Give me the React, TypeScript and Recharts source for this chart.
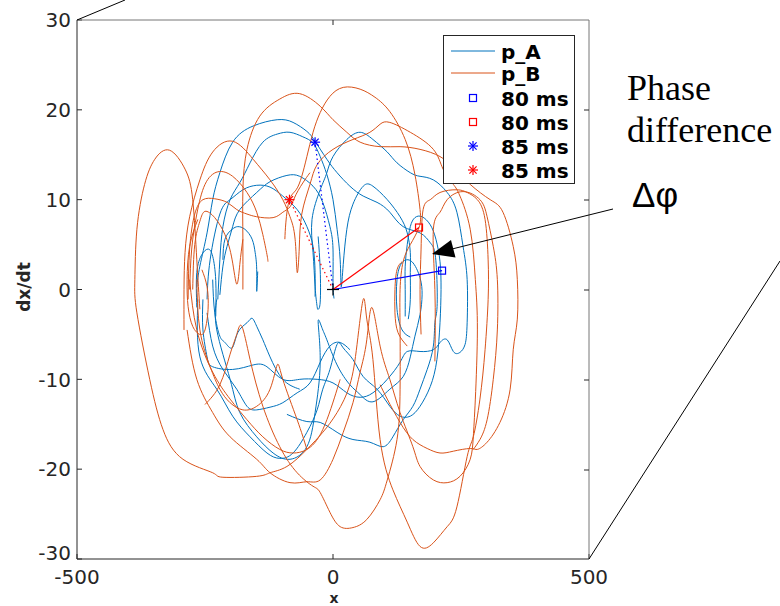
import React from "react";
import { ComposedChart, Line, Scatter, XAxis, YAxis, Legend } from "recharts";

type Pt = [number, number];

const xTicks = [-500, 0, 500];
const yTicks = [-30, -20, -10, 0, 10, 20, 30];

// p_A trajectory pieces, [x, dx/dt]
const pA1: Pt[] = [[-266,0.3],[-260,2.6],[-246,6.3],[-235,10.0],[-221,13.0],[-196,16.4],[-156,18.2],[-109,18.9],[-78,18.6],[-51,17.6],[-35,16.5],[-12,14.5],[8,13.0],[33,11.5],[59,10.4],[86,9.7],[111,8.6],[137,7.0],[170,6.3],[190,5.2],[199,4.1],[203,1.1],[203,-2.2],[199,-3.7],[196,-6.3],[184,-8.9],[170,-11.1],[156,-13.0],[137,-14.5],[117,-16.4],[98,-17.5],[72,-17.0],[39,-16.7],[8,-15.9],[-25,-14.8],[-51,-14.7],[-90,-13.9]];
const pA2: Pt[] = [[-264,-1.1],[-260,-7.5],[-227,-11.1],[-196,-14.1],[-162,-16.4],[-129,-18.2],[-104,-18.8],[-78,-18.2],[-51,-15.9],[-31,-13.4],[-20,-11.1],[-6,-8.9],[8,-6.1],[20,-6.5],[39,-7.8],[59,-9.7],[86,-11.1],[111,-13.0],[131,-14.1],[151,-14.1],[170,-13.0],[190,-10.8],[203,-7.8],[209,-3.7],[211,0],[209,3.1],[201,5.6],[190,7.2],[174,8.1],[160,8.0],[151,7.0],[145,5.0],[141,2.6],[141,0],[141,-3]];
const pA3: Pt[] = [[-227,-1.1],[-227,-4.5],[-201,-10.0],[-182,-13.7],[-149,-16.4],[-117,-18.2],[-84,-18.9],[-51,-17.5],[-35,-13.7],[-25,-8.1],[-29,-3.6],[-22,-4.2],[-12,-5.6],[8,-8.4],[33,-10.6],[53,-11.7],[78,-12.5],[111,-11.1],[137,-9.7],[151,-7.5],[160,-5.2],[170,-2.8],[174,-0.6],[170,1.3],[154,3.1],[135,3.0],[125,1.1],[125,-2.2],[135,-4.5],[151,-5.3]];
const pA4: Pt[] = [[-254,-1.1],[-254,-4.5],[-246,-7.5],[-235,-8.6],[-196,-8.9],[-156,-8.4],[-129,-8.6],[-98,-10.0],[-65,-10.0],[-31,-10.0],[0,-10.4],[27,-11.5],[53,-12.0],[78,-11.5],[106,-10.0],[131,-8.1],[145,-6.9],[170,-6.9],[196,-6.7],[209,-5.9],[223,-5.6],[235,-6.9],[248,-7.0],[258,-6.1],[262,-3.7],[262,1.1],[254,4.8],[242,8.6],[223,10.8],[196,12.2],[170,12.6],[151,13.0],[125,14.1],[106,15.3],[78,16.7],[53,17.5],[27,16.7],[0,14.8],[-12,13.0],[-25,11.1],[-41,7.8],[-39,4.1],[-35,0.3],[-31,-1.9],[-29,-2.2],[-25,-1.4],[-25,2.2],[-29,5.9]];
const pA5: Pt[] = [[-225,-1.1],[-221,3.3],[-215,7.0],[-201,10.0],[-182,11.9],[-162,14.1],[-137,16.4],[-109,17.3],[-84,17.5],[-59,17.0],[-39,16.3],[-25,14.8],[-12,12.8],[0,10.0],[8,6.7],[14,3.3],[16,0.3],[20,2.8],[27,6.7],[39,9.5],[59,11.5],[78,11.5],[106,10.0],[131,8.1],[145,6.3],[151,4.1],[151,1.9],[151,-1.1],[147,-3.3]];
const pA6: Pt[] = [[-221,-0.6],[-215,2.6],[-207,4.8],[-196,7.0],[-182,8.9],[-149,10.8],[-123,12.0],[-90,12.7],[-65,12.6],[-39,11.5],[-20,9.7],[-6,7.0],[0,4.5],[0,0.8],[2,-1]];
const pA7: Pt[] = [[-246,-1.1],[-240,3.3],[-221,8.4],[-201,10.0],[-176,11.1],[-149,11.6],[-123,11.4],[-98,10.4],[-70,8.9],[-51,7.0],[-39,4.8],[-35,1.9],[-35,-0.8]];
const pA8: Pt[] = [[-215,3.3],[-211,5.6],[-197,6.7],[-186,7.0],[-172,6.7],[-158,5.6],[-152,4.1],[-149,2.2],[-149,-0.2],[-147,2]];
const pA9: Pt[] = [[-235,1.1],[-231,-2.6],[-221,-5.2],[-211,-5.9],[-197,-6.5],[-186,-4.8],[-168,-3.7],[-158,-3.2],[-149,-4.1],[-137,-5.6],[-123,-7.5],[-98,-10.0],[-65,-11.1]];
const pA10: Pt[] = [[-246,-2.6],[-235,-6.3],[-215,-8.9],[-188,-11.1],[-168,-13.0],[-149,-13.4],[-123,-13.1],[-98,-12.6],[-70,-11.5],[-45,-10.4],[-25,-8.1],[-6,-6.3],[14,-5.9],[33,-6.7]];
const pA11: Pt[] = [[-266,-2],[-266,1.9],[-256,3.9],[-244,4.5],[-235,3.7],[-229,1],[-229,-3]];

// p_B trajectory pieces, [x, dx/dt]
const pB1: Pt[] = [[-260,-2.2],[-266,3.3],[-274,10.0],[-289,13.4],[-319,15.5],[-348,14.5],[-368,11.7],[-383,6.7],[-387,1.1],[-383,-2.6],[-358,-10.0],[-332,-15.6],[-293,-18.9],[-235,-20.4],[-215,-20.9],[-149,-20.8],[-123,-20.4],[-90,-19.7],[-51,-17.8],[-20,-15.9],[8,-13.7],[33,-10.6],[47,-6.1],[59,-1.1],[66,-3.3],[78,-7.8],[92,-16.7],[117,-22.3],[145,-25.9],[170,-28.6],[196,-28.2],[223,-26.4],[242,-24.2],[262,-18.6],[274,-16.4],[287,-12.2],[297,-6.7],[303,-1.1],[303,3.3],[297,7.8],[282,10.0],[262,10.8],[242,11.1],[209,10.8],[190,10.0],[176,8.9],[172,4.5],[170,0],[172,-5]];
const pB2: Pt[] = [[-291,-4.5],[-291,0],[-289,4.1],[-280,8.1],[-260,12.2],[-235,15.3],[-196,16.5],[-156,14.5],[-123,12.2],[-98,10.0],[-84,8.1],[-74,5.6],[-70,1.9],[-66,4.5],[-61,8.4],[-45,11.7],[-31,13.9],[0,15.6],[39,16.7],[72,17.5],[92,18.4],[111,18.6],[151,17.5],[196,15.6],[215,13.4],[235,11.7],[248,10.4],[268,6.7],[278,1.1],[282,-4.5],[278,-12.2],[274,-16.4],[268,-18.9],[248,-20.8],[223,-21.5],[196,-21.2],[170,-19.7],[156,-17.5],[131,-13.7],[111,-10.0],[92,-6.3],[76,-2.0],[66,-5.6],[53,-9.2],[39,-12.6],[20,-15.9],[0,-18.9],[-25,-21.2],[-51,-21.4],[-84,-21.5],[-123,-20.4],[-149,-18.9],[-201,-16.4],[-235,-13.7],[-266,-10.0],[-285,-4.5]];
const pB3: Pt[] = [[-176,0],[-176,5.6],[-176,11.1],[-168,15.6],[-143,19.3],[-104,21.2],[-65,21.8],[-25,20.4],[0,18.9],[27,17.5],[53,16.4],[92,15.9],[131,15.9],[170,15.6],[209,14.8],[239,13.4],[268,11.7],[307,10.0],[332,8.6],[352,4.8],[360,1.1],[360,-3.3],[352,-6.7],[346,-11.1],[326,-14.8],[301,-17.0],[282,-17.8],[268,-17.7],[235,-18.0],[209,-18.2],[184,-17.7],[156,-16.7],[131,-14.8],[106,-12.2],[92,-10.6]];
const pB4: Pt[] = [[-94,5.6],[-92,7.5],[-85,10.0],[-72,11.1],[-61,12.6],[-51,14.8],[-39,17.5],[-25,19.7],[-6,21.5],[20,22.5],[53,22.3],[82,21.4],[111,19.8],[141,16.7],[160,12.8],[170,8.9],[168,6.9],[151,5.0],[137,3.1],[131,0],[131,-4.5],[131,-11.1],[125,-16.7],[106,-21.2],[92,-23.4],[66,-25.6],[39,-26.5],[14,-26.4],[-6,-24.8],[-25,-22.6],[-39,-21.9],[-70,-20.4],[-104,-17.5],[-137,-13.0],[-162,-7.8],[-178,-4.1],[-188,-5.0],[-201,-7.2],[-221,-10.6],[-250,-12.8]];
const pB5: Pt[] = [[-280,0],[-276,4.5],[-266,8.4],[-250,11.7],[-225,13.1],[-196,12.6],[-168,10.8],[-149,8.6],[-137,6.1],[-129,3.9],[-127,3.1]];
const pB6: Pt[] = [[-283,-1.1],[-280,4.5],[-270,8.4],[-254,10.0],[-231,10.1],[-207,9.7],[-188,8.9],[-168,8.4],[-149,8.1],[-117,8.0],[-98,8.6],[-84,9.2],[-72,10.6],[-55,12.2],[-45,13.0]];
const pB7: Pt[] = [[-274,0],[-270,5.0],[-260,7.6],[-250,8.7],[-231,8.0],[-211,6.1],[-197,3.3],[-188,0.6],[-182,2.8],[-176,5.6]];
const pB8: Pt[] = [[-264,7.8],[-280,4.8],[-285,1.1],[-283,-1.9],[-274,-4.1],[-260,-5.0],[-250,-4.5],[-244,-2.2],[-246,0.3],[-256,2.2]];
const pB9: Pt[] = [[-266,1.1],[-260,-4.5],[-240,-8.6],[-221,-11.1],[-201,-12.6],[-176,-13.4],[-149,-13.0],[-123,-11.1],[-109,-8.4],[-98,-10.0],[-70,-14.5],[-51,-17.8]];
const pB10: Pt[] = [[-280,1.1],[-266,-4.5],[-235,-9.2],[-201,-12.2],[-168,-14.5],[-137,-16.4],[-104,-17.8],[-78,-18.2],[-51,-17.8],[-20,-15.6],[8,-11.1],[14,-10]];
const pB11: Pt[] = [[135,3.1],[125,2.2],[121,0],[121,-2.6],[127,-4.8],[145,-6.3]];
const pB12: Pt[] = [[199,-8],[199,0],[196,6.7],[209,8.6],[223,10.0],[254,10.9],[287,10.0],[301,8.1],[313,4.8],[321,1.1],[321,-4.5],[313,-10.0],[301,-14.5],[287,-16.7],[274,-17.8]];

const pA = [pA1, pA2, pA3, pA4, pA5, pA6, pA7, pA8, pA9, pA10, pA11];
const pB = [pB1, pB2, pB3, pB4, pB5, pB6, pB7, pB8, pB9, pB10, pB11, pB12];

// phase points at 80 ms and 85 ms, and the centre
const origin = [{ x: 0, y: 0 }];
const a80 = [{ x: 213, y: 2.1 }];
const b80 = [{ x: 168, y: 6.9 }];
const a85 = [{ x: -35, y: 16.4 }];
const b85 = [{ x: -85, y: 10.0 }];

const BLUE = "#0072BD";
const ORANGE = "#D95319";
const AXIS = "#262626";
const FONT = "'DejaVu Sans', sans-serif";

const rows = (seg: Pt[]) => seg.map(([x, y]) => ({ x, y }));

const XTick = ({ x, y, payload }: any) => (
  <g>
    <line x1={x} x2={x} y1={y} y2={y - 5} stroke={AXIS} />
    <text x={x} y={y + 25} textAnchor="middle" fontSize={20} fontFamily={FONT} fill={AXIS}>
      {payload.value}
    </text>
  </g>
);

const YTick = ({ x, y, payload }: any) => (
  <g>
    <line x1={x} x2={x + 5} y1={y} y2={y} stroke={AXIS} />
    <text x={x - 6} y={y} dy={payload.value === -30 ? "0.05em" : "0.36em"} textAnchor="end"
      fontSize={20} fontFamily={FONT} fill={AXIS}>
      {payload.value}
    </text>
  </g>
);

const Square = ({ cx, cy, stroke }: any) => (
  <rect x={cx - 3.5} y={cy - 3.5} width={7} height={7} fill="none" stroke={stroke} strokeWidth={1.2} />
);

const Star = ({ cx, cy, stroke }: any) => (
  <g stroke={stroke} strokeWidth={1.2}>
    <line x1={cx - 5} x2={cx + 5} y1={cy} y2={cy} />
    <line x1={cx} x2={cx} y1={cy - 5} y2={cy + 5} />
    <line x1={cx - 3.6} x2={cx + 3.6} y1={cy - 3.6} y2={cy + 3.6} />
    <line x1={cx - 3.6} x2={cx + 3.6} y1={cy + 3.6} y2={cy - 3.6} />
  </g>
);

const Plus = ({ cx, cy }: any) => (
  <g stroke="#000" strokeWidth={1.2}>
    <line x1={cx - 6} x2={cx + 6} y1={cy} y2={cy} />
    <line x1={cx} x2={cx} y1={cy - 6} y2={cy + 6} />
  </g>
);

const LegendBox = () => (
  <svg width={133} height={150}>
    <rect x={0.5} y={0.5} width={131} height={148} fill="#fff" stroke={AXIS} />
    <g fontFamily={FONT} fontWeight="bold" fontSize={20} fill="#000">
      <line x1={8} x2={52} y1={16} y2={16} stroke={BLUE} />
      <text x={58} y={24}>p_A</text>
      <line x1={8} x2={52} y1={38} y2={38} stroke={ORANGE} />
      <text x={58} y={46}>p_B</text>
      <Square cx={30} cy={63} stroke="#0000FF" />
      <text x={58} y={71}>80 ms</text>
      <Square cx={30} cy={87} stroke="#FF0000" />
      <text x={58} y={95}>80 ms</text>
      <Star cx={30} cy={111} stroke="#0000FF" />
      <text x={58} y={119}>85 ms</text>
      <Star cx={30} cy={135} stroke="#FF0000" />
      <text x={58} y={143}>85 ms</text>
    </g>
  </svg>
);

export default function App() {
  return (
    <div style={{ position: "absolute", left: 0, top: 0, width: 780, height: 606, background: "#fff", overflow: "hidden" }}>
      <ComposedChart width={780} height={606} margin={{ top: 20, right: 191, bottom: 0, left: 0 }}>
        <XAxis
          type="number"
          dataKey="x"
          domain={[-500, 500]}
          ticks={xTicks}
          allowDataOverflow
          height={47}
          tickSize={0}
          tickMargin={0}
          tick={<XTick />}
          stroke={AXIS}
          interval={0}
        />
        <YAxis
          type="number"
          domain={[-30, 30]}
          ticks={yTicks}
          allowDataOverflow
          width={77}
          tickSize={0}
          tickMargin={0}
          tick={<YTick />}
          stroke={AXIS}
          interval={0}
        />
        {pA.map((seg, i) => (
          <Line key={"a" + i} data={rows(seg)} dataKey="y" type="natural" stroke={BLUE} strokeWidth={1}
            dot={false} isAnimationActive={false} legendType="none" />
        ))}
        {pB.map((seg, i) => (
          <Line key={"b" + i} data={rows(seg)} dataKey="y" type="natural" stroke={ORANGE} strokeWidth={1}
            dot={false} isAnimationActive={false} legendType="none" />
        ))}
        <Line data={[...origin, ...a80]} dataKey="y" stroke="#0000FF" strokeWidth={1.2} dot={false} isAnimationActive={false} legendType="none" />
        <Line data={[...origin, ...b80]} dataKey="y" stroke="#FF0000" strokeWidth={1.2} dot={false} isAnimationActive={false} legendType="none" />
        <Line data={[...origin, ...a85]} dataKey="y" stroke="#0000FF" strokeWidth={1.2} strokeDasharray="1.5 3" dot={false} isAnimationActive={false} legendType="none" />
        <Line data={[...origin, ...b85]} dataKey="y" stroke="#FF0000" strokeWidth={1.2} strokeDasharray="1.5 3" dot={false} isAnimationActive={false} legendType="none" />
        <Scatter data={a80} dataKey="y" shape={<Square stroke="#0000FF" />} isAnimationActive={false} legendType="none" />
        <Scatter data={b80} dataKey="y" shape={<Square stroke="#FF0000" />} isAnimationActive={false} legendType="none" />
        <Scatter data={a85} dataKey="y" shape={<Star stroke="#0000FF" />} isAnimationActive={false} legendType="none" />
        <Scatter data={b85} dataKey="y" shape={<Star stroke="#FF0000" />} isAnimationActive={false} legendType="none" />
        <Scatter data={origin} dataKey="y" shape={<Plus />} isAnimationActive={false} legendType="none" />
        <Legend
          layout="horizontal"
          verticalAlign="middle"
          align="center"
          content={<LegendBox />}
          wrapperStyle={{ left: 443, top: 35, width: 133, height: 150 }}
        />
      </ComposedChart>
      <svg width={780} height={606} style={{ position: "absolute", left: 0, top: 0, pointerEvents: "none" }}>
        <g stroke="#777" fill="none">
          <line x1={77} x2={589} y1={20} y2={20} />
          <line x1={589} x2={589} y1={20} y2={559} />
          <line x1={333} x2={333} y1={20} y2={25} stroke={AXIS} />
          {[110, 200, 290, 380, 470].map((y) => (
            <line key={y} x1={584} x2={589} y1={y} y2={y} stroke={AXIS} />
          ))}
        </g>
        <line x1={77} y1={20} x2={125} y2={0} stroke="#000" />
        <line x1={589} y1={559} x2={780} y2={261} stroke="#000" />
        <text x={24} y={287} transform="rotate(-90 24 287)" textAnchor="middle" dy="0.36em"
          fontFamily={FONT} fontWeight="bold" fontSize={17} fill={AXIS}>dx/dt</text>
        <text x={334} y={602.5} textAnchor="middle" fontFamily={FONT} fontWeight="bold" fontSize={14} fill={AXIS}>x</text>
        <g fontFamily="'Liberation Serif', serif" fontSize={36} fill="#000">
          <text x={627} y={100}>Phase</text>
          <text x={627} y={142}>difference</text>
        </g>
        <text x={632} y={207} fontFamily="'Liberation Sans', sans-serif" fontSize={35} fill="#000">Δφ</text>
        <line x1={613} y1={209} x2={452} y2={249} stroke="#000" />
        <polygon points="432,254 451,240 455.5,257.5" fill="#000" />
      </svg>
    </div>
  );
}
